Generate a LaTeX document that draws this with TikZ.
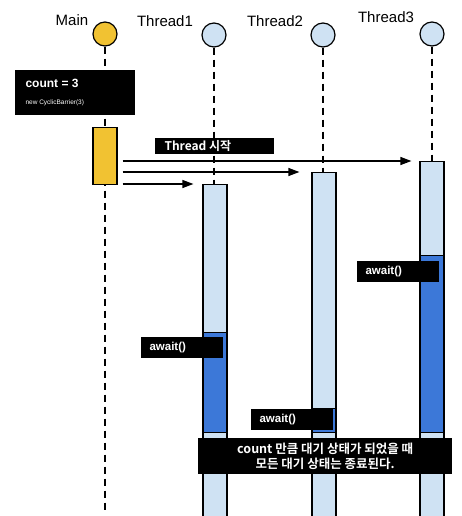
\documentclass[tikz,border=0pt]{standalone}
\usepackage{fontspec}
\setmainfont{Liberation Sans}
\newfontfamily\krfont{Noto Sans CJK KR}[BoldFont={Noto Sans CJK KR Bold}]
\usepackage{xcolor}
\usepackage{tikz}
\usetikzlibrary{arrows.meta, positioning}
\definecolor{mainyellow}{RGB}{241,194,50}
\definecolor{runblue}{RGB}{207,226,243}
\definecolor{waitblue}{RGB}{60,120,216}
\tikzset{
    head/.style={circle, draw, line width=1.2pt, minimum size=24pt, inner sep=0pt},
    lifeline/.style={line width=1.4pt, dash pattern=on 7pt off 5pt},
    bar/.style={rectangle, draw, line width=1.2pt, minimum width=24pt, inner sep=0pt,
                anchor=north, fill=runblue},
    waitbar/.style={bar, fill=waitblue},
    note/.style={rectangle, fill=black, text=white, inner sep=0pt, anchor=north west},
    msg/.style={line width=1.2pt, -{Triangle[length=11pt,width=8pt]}},
    title/.style={font=\fontsize{15}{18}\selectfont},
    awaittext/.style={anchor=west, text=white, font=\bfseries\fontsize{11.5}{13}\selectfont}
}

\begin{document}
\begin{tikzpicture}[x=1pt, y=-1pt]
    \useasboundingbox (0,0) rectangle (461,516);

    % Heads
    \node[head, fill=mainyellow] (mainhead) at (105,34) {};
    \node[head, fill=runblue] (t1head) at (214,35) {};
    \node[head, fill=runblue] (t2head) at (323,35) {};
    \node[head, fill=runblue] (t3head) at (432,34) {};
    \node[title] (maintitle) at (72,20) {Main};
    \node[title] (t1title) at (165,21) {Thread1};
    \node[title] (t2title) at (275,21) {Thread2};
    \node[title] (t3title) at (386,17) {Thread3};

    % Lifelines
    \draw[lifeline] (mainhead.south) -- (mainhead.south |- 0,512);
    \draw[lifeline] (t1head.south) -- (t1head.south |- 0,516);
    \draw[lifeline] (t2head.south) -- (t2head.south |- 0,516);
    \draw[lifeline] (t3head.south) -- (t3head.south |- 0,516);

    % Init note
    \node[note, minimum width=120pt, minimum height=45pt] (initbox) at (15,70) {};
    \node[anchor=west, text=white, font=\bfseries\fontsize{12}{14}\selectfont] (initcount) at (22,83) {count = 3};
    \node[anchor=west, text=white, font=\fontsize{6.5}{8}\selectfont] (initcall) at (22,103) {new CyclicBarrier(3)};

    % Activation bars
    \node[bar, fill=mainyellow, minimum height=57pt] (mainbar) at (105,127) {};
    \node[bar, minimum height=148pt] (t1run) at (215,184) {};
    \node[waitbar, minimum height=100pt] (t1wait) at (215,332) {};
    \node[bar, minimum height=84pt] (t1end) at (215,432) {};
    \node[bar, minimum height=236pt] (t2run) at (324,172) {};
    \node[waitbar, minimum height=24pt] (t2wait) at (324,408) {};
    \node[bar, minimum height=84pt] (t2end) at (324,432) {};
    \node[bar, minimum height=94pt] (t3run) at (432,161) {};
    \node[waitbar, minimum height=177pt] (t3wait) at (432,255) {};
    \node[bar, minimum height=84pt] (t3end) at (432,432) {};

    % Messages
    \draw[msg, shorten <=5pt, shorten >=8pt] (mainbar.east |- t3run.north) -- (t3run.north west);
    \draw[msg, shorten <=5pt, shorten >=12pt] (mainbar.east |- t2run.north) -- (t2run.north west);
    \draw[msg, shorten <=5pt, shorten >=9pt] (mainbar.east |- t1run.north) -- (t1run.north west);

    % Notes
    \node[note, minimum width=119pt, minimum height=16pt] (startbox) at (155,138) {};
    \node[anchor=west, text=white, font=\krfont\bfseries\fontsize{12}{14}\selectfont] (starttext) at (161,146) {Thread 시작};
    \node[note, minimum width=82pt, minimum height=21pt] (t3await) at (357,261) {};
    \node[awaittext] at (362,271.5) {await()};
    \node[note, minimum width=82pt, minimum height=21pt] (t1await) at (141,337) {};
    \node[awaittext] at (146,347.5) {await()};
    \node[note, minimum width=82pt, minimum height=21pt] (t2await) at (251,409) {};
    \node[awaittext] at (256,419.5) {await()};
    \node[note, minimum width=254pt, minimum height=36pt] (endbox) at (198,438) {};
    \node[text=white, align=center, font=\krfont\bfseries\fontsize{12.5}{15}\selectfont] (endtext)
        at (endbox.center) {count 만큼 대기 상태가 되었을 때\\모든 대기 상태는 종료된다.};
\end{tikzpicture}
\end{document}
